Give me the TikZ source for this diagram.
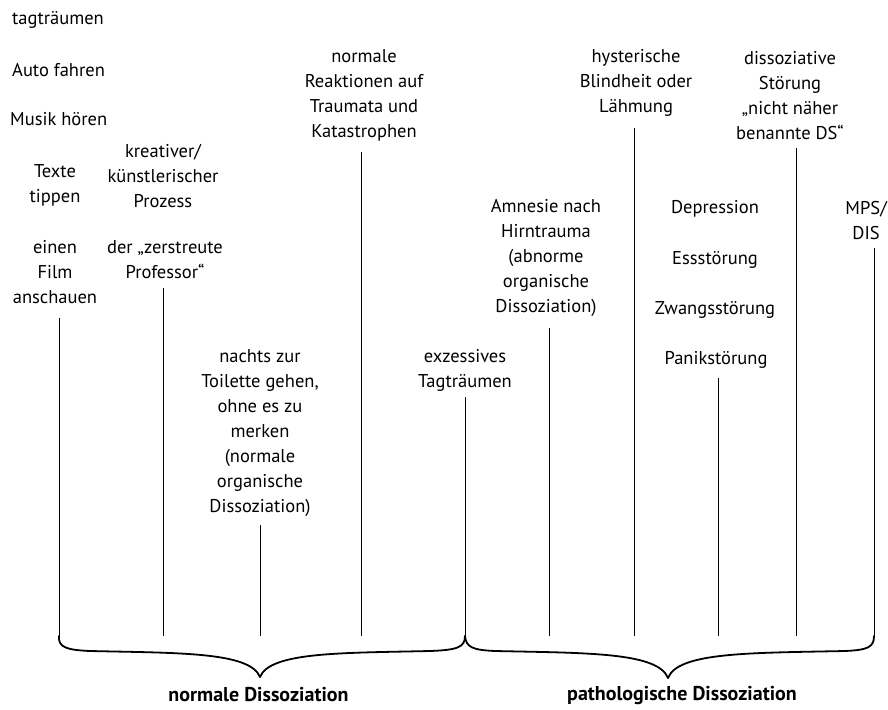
\documentclass[tikz,border=0pt]{standalone}
\usepackage{fontspec}
\setmainfont{PT Sans}
\begin{document}
\begin{tikzpicture}[x=1pt,y=-1pt,
  lbl/.style={align=center,inner sep=0pt,font=\fontsize{18.5}{25}\selectfont},
  lblw/.style={anchor=west,inner sep=0pt,font=\fontsize{18.5}{25}\selectfont},
  ttl/.style={inner sep=0pt,font=\fontsize{20}{24}\selectfont\bfseries},
  tick/.style={line width=0.8pt},
  bracepath/.style={line width=1.8pt,line join=round,line cap=round}]
\useasboundingbox (0,0) rectangle (888,709);
\fill[white] (0,0) rectangle (888,709);

% labels
\node[lblw] (n1) at (12,20) {tagträumen};
\node[lblw] (n2) at (12,70) {Auto fahren};
\node[lblw] (n3) at (10,119) {Musik hören};
\node[lbl] (n4) at (55,185.5) {Texte\\tippen};
\node[lbl] (n5) at (55,272.5) {einen\\Film\\anschauen};
\node[lbl] (n6) at (163,176) {kreativer/\\künstlerischer\\Prozess};
\node[lbl] (n7) at (165,260) {der „zerstreute\\Professor“};
\node[lbl] (n8) at (260,433) {nachts zur\\Toilette gehen,\\ohne es zu\\merken\\(normale\\organische\\Dissoziation)};
\node[lbl] (n9) at (364,95.5) {normale\\Reaktionen auf\\Traumata und\\Katastrophen};
\node[lbl] (n10) at (465,370.5) {exzessives\\Tagträumen};
\node[lbl] (n11) at (546,258) {Amnesie nach\\Hirntrauma\\(abnorme\\organische\\Dissoziation)};
\node[lbl] (n12) at (636,83) {hysterische\\Blindheit oder\\Lähmung};
\node[lbl] (n13) at (715,209) {Depression};
\node[lbl] (n14) at (715,260) {Essstörung};
\node[lbl] (n15) at (715,310) {Zwangsstörung};
\node[lbl] (n16) at (716,360) {Panikstörung};
\node[lbl] (n17) at (790,96) {dissoziative\\Störung\\„nicht näher\\benannte DS“};
\node[lbl,anchor=east] (n18) at (887,221) {MPS/\\DIS};

\node[ttl] (t1) at (258.5,695) {normale Dissoziation};
\node[ttl] (t2) at (682,695) {pathologische Dissoziation};

% tick coordinates
\coordinate (a1) at (59,318);  \coordinate (b1) at (59,636);
\coordinate (a2) at (163,288); \coordinate (b2) at (163,636);
\coordinate (a3) at (260,525); \coordinate (b3) at (260,636);
\coordinate (a4) at (361,152); \coordinate (b4) at (361,636);
\coordinate (a5) at (465,397); \coordinate (b5) at (465,636);
\coordinate (a6) at (549,328); \coordinate (b6) at (549,636);
\coordinate (a7) at (634,128); \coordinate (b7) at (634,636);
\coordinate (a8) at (718,378); \coordinate (b8) at (718,636);
\coordinate (a9) at (796,148); \coordinate (b9) at (796,636);
\coordinate (a10) at (874,248); \coordinate (b10) at (874,636);

\foreach \i in {1,...,10} { \draw[tick] (a\i) -- (b\i); }

% braces
\coordinate (tipL) at (260,677);
\coordinate (tipR) at (668,678);
\draw[bracepath] (b1) .. controls (58,647) and (66,650) .. (90,651)
  .. controls (180,653) and (250,652) .. (tipL)
  .. controls (270,652) and (340,653) .. (430,651)
  .. controls (458,650) and (465,647) .. (b5);
\draw[bracepath] (b5) .. controls (466,647) and (472,650) .. (495,651)
  .. controls (585,653) and (658,652) .. (tipR)
  .. controls (678,652) and (750,653) .. (845,651)
  .. controls (868,650) and (874,647) .. (b10);
\end{tikzpicture}
\end{document}
